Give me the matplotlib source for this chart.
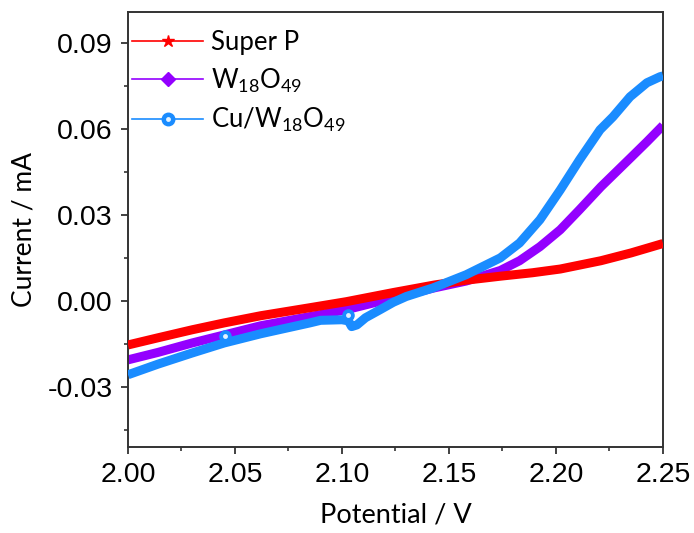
import matplotlib
matplotlib.use("Agg")
import matplotlib.pyplot as plt
from matplotlib.lines import Line2D
from matplotlib.ticker import MultipleLocator, FormatStrFormatter
from matplotlib.legend_handler import HandlerTuple

# Super P
sp_x = [2.000, 2.014, 2.030, 2.045, 2.062, 2.085, 2.102, 2.124, 2.143, 2.158,
        2.174, 2.189, 2.202, 2.221, 2.235, 2.250]
sp_y = [-0.0154, -0.0129, -0.0101, -0.0077, -0.0052, -0.0024, -0.0003, 0.0029, 0.0055, 0.0072,
        0.0086, 0.0098, 0.0111, 0.0140, 0.0167, 0.0200]

# W18O49
wo_x = [2.000, 2.014, 2.030, 2.045, 2.062, 2.085, 2.102, 2.124, 2.143, 2.158,
        2.174, 2.183, 2.1925, 2.202, 2.211, 2.221, 2.235, 2.2425, 2.250]
wo_y = [-0.0206, -0.0180, -0.0147, -0.0119, -0.0087, -0.0055, -0.0031, 0.0010, 0.0045, 0.0069,
        0.0106, 0.0140, 0.0189, 0.0248, 0.0318, 0.0398, 0.0500, 0.0555, 0.0612]

# Cu/W18O49
cu_x = [2.000, 2.014, 2.030, 2.045, 2.062, 2.085, 2.090, 2.100, 2.103, 2.1045, 2.107,
        2.111, 2.1178, 2.124, 2.130, 2.1425, 2.158, 2.174, 2.183, 2.1925, 2.202, 2.211,
        2.2206, 2.2266, 2.2346, 2.2425, 2.2486, 2.250]
cu_y = [-0.0258, -0.0221, -0.0182, -0.0147, -0.0115, -0.0077, -0.0068, -0.0066, -0.0070,
        -0.0090, -0.0084, -0.0059, -0.0031, -0.0005, 0.0015, 0.0045, 0.0091, 0.0150, 0.0202,
        0.0283, 0.0387, 0.0492, 0.0597, 0.0642, 0.0712, 0.0761, 0.0782, 0.0785]
cu_mark_x = [2.0453, 2.103]
cu_mark_y = [-0.0121, -0.0051]

labels = ["Super P", "W$_{18}$O$_{49}$", "Cu/W$_{18}$O$_{49}$"]
red = "#ff0000"
purple = "#9400ff"
blue = "#1a8cff"

plt.rcParams["mathtext.fontset"] = "custom"
plt.rcParams["mathtext.rm"] = "Lato"
plt.rcParams["mathtext.it"] = "Lato:italic"
plt.rcParams["mathtext.default"] = "rm"

fig = plt.figure(figsize=(6.94, 5.33), dpi=100)
ax = fig.add_axes([0.1844, 0.1614, 0.7709, 0.8161])

lw = 6.5
ax.plot(sp_x, sp_y, color=red, lw=lw, solid_capstyle="butt", solid_joinstyle="round", zorder=3)
ax.plot(wo_x, wo_y, color=purple, lw=lw, solid_capstyle="butt", solid_joinstyle="round", zorder=2)
ax.plot(cu_x, cu_y, color=blue, lw=lw, solid_capstyle="butt", solid_joinstyle="round", zorder=4)
ax.plot(cu_mark_x, cu_mark_y, ls="none", marker="o", ms=8, mfc=blue, mec=blue, zorder=5)
ax.plot(cu_mark_x, cu_mark_y, ls="none", marker="o", ms=3.5, mfc="#e6f3ff", mec="none", zorder=6)

ax.set_xlim(2.0, 2.25)
ax.set_ylim(-0.051, 0.1008)
ax.xaxis.set_major_locator(MultipleLocator(0.05))
ax.xaxis.set_minor_locator(MultipleLocator(0.025))
ax.yaxis.set_major_locator(MultipleLocator(0.03))
ax.yaxis.set_minor_locator(MultipleLocator(0.015))
ax.xaxis.set_major_formatter(FormatStrFormatter("%.2f"))
ax.yaxis.set_major_formatter(FormatStrFormatter("%.2f"))

for s in ax.spines.values():
    s.set_linewidth(1.4)
    s.set_color("#333333")
ax.tick_params(which="major", direction="out", length=5, width=1.3, color="#333333",
               labelsize=20.5, pad=6)
ax.tick_params(which="minor", direction="out", length=3, width=1.2, color="#333333")
for t in ax.get_xticklabels() + ax.get_yticklabels():
    t.set_fontfamily("Liberation Sans")

ax.set_xlabel("Potential / V", fontfamily="Lato", fontsize=19.5, labelpad=10)
ax.set_ylabel("Current / mA", fontfamily="Lato", fontsize=19, labelpad=8)

h1 = Line2D([], [], color=red, lw=1.2, marker="*", ms=9, mec=red, mfc=red)
h2 = Line2D([], [], color=purple, lw=1.2, marker="D", ms=7, mec=purple, mfc=purple)
h3a = Line2D([], [], color=blue, lw=1.2, marker="o", ms=9, mec=blue, mfc=blue)
h3b = Line2D([], [], ls="none", marker="o", ms=3.5, mec="none", mfc="#e6f3ff")
leg = ax.legend([h1, h2, (h3a, h3b)], labels, loc="upper left",
                bbox_to_anchor=(-0.035, 1.012), frameon=False,
                prop={"family": "Lato", "size": 18.5}, handlelength=2.75,
                handletextpad=0.3, labelspacing=0.45,
                handler_map={tuple: HandlerTuple(ndivide=1, pad=0)})

fig.savefig("out.png", dpi=100)
